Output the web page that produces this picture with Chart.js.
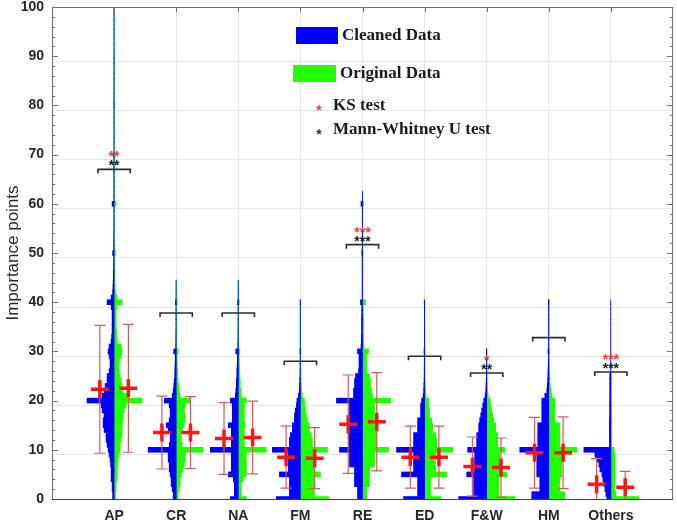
<!DOCTYPE html>
<html>
<head>
<meta charset="utf-8">
<script src="https://cdn.jsdelivr.net/npm/chart.js@4.4.1/dist/chart.umd.min.js"></script>
<style>
  html, body { margin: 0; padding: 0; background: #fff; }
  #wrap { width: 677px; height: 522px; }
</style>
</head>
<body>
<div id="wrap"><canvas id="myChart" width="677" height="522"></canvas></div>
<script>
const categories = ['AP', 'CR', 'NA', 'FM', 'RE', 'ED', 'F&W', 'HM', 'Others'];

// histogram bar lengths, index = importance points (one bin per point)
const cleanedAP = [
  1.5, 1.5, 2, 2, 3, 3, 3, 3.5, 4, 5,
  6, 7, 8, 8, 10, 11, 11, 10, 12, 13,
  27, 12, 10, 9, 7, 7, 5, 4, 4, 5,
  6, 5, 3, 2.5, 2, 2, 2, 2, 2, 3,
  7, 3, 1.5, 1.2, 1, 0.8, 0.8, 0.6, 0.6, 0.5,
  1.5, 0.5, 0.4, 0.4, 0.4, 0.3, 0.3, 0.3, 0.3, 0.3,
  2, 0.3, 0.3, 0.3, 0.3, 0.3, 0.3, 0.3, 0.3, 0.3,
  0.5, 0.25, 0.25, 0.25, 0.25, 0.25, 0.25, 0.25, 0.25, 0.25,
  0.4, 0.25, 0.25, 0.25, 0.25, 0.25, 0.25, 0.25, 0.25, 0.25,
  0.3, 0.2, 0.2, 0.2, 0.2, 0.2, 0.2, 0.2, 0.2, 0.2,
  0.3
];
const originalAP = [
  1.5, 1.5, 2, 2, 2.5, 3, 3, 4, 4, 5,
  6, 6, 7, 8, 8, 8, 9, 9, 10, 12,
  28, 14, 9, 8, 7, 6, 5, 5, 5, 7,
  8, 7, 3, 2.5, 2.5, 2, 2, 2, 2, 3,
  8, 3, 1.5, 1.2, 1, 0.8, 0.8, 0.6, 0.6, 0.5,
  1.5, 0.5, 0.4, 0.4, 0.4, 0.3, 0.3, 0.3, 0.3, 0.3,
  2, 0.3, 0.3, 0.3, 0.3, 0.3, 0.3, 0.3, 0.3, 0.3,
  0.5, 0.25, 0.25, 0.25, 0.25, 0.25, 0.25, 0.25, 0.25, 0.25,
  0.4, 0.25, 0.25, 0.25, 0.25, 0.25, 0.25, 0.25, 0.25, 0.25,
  0.3, 0.2, 0.2, 0.2, 0.2, 0.2, 0.2, 0.2, 0.2, 0.2,
  0.3
];
const cleanedCR = [
  3, 3, 4, 5, 5, 6, 7, 7, 8, 8,
  28, 7, 6, 6, 8, 10, 7, 6, 6, 7,
  12, 4, 3, 2.5, 2, 1.5, 1.5, 1.2, 1, 1,
  2.5, 0.6, 0.5, 0.4, 0.4, 0.3, 0.3, 0.3, 0.3, 0.3,
  0.8, 0.25, 0.2, 0.2, 0.2
];
const originalCR = [
  2, 2, 3, 4, 4, 5, 7, 8, 9, 9,
  27, 6, 5, 5, 6, 8, 9, 9, 8, 9,
  14, 4, 3, 2.5, 2, 1.5, 1.5, 1.2, 1, 1,
  2, 0.6, 0.5, 0.4, 0.4, 0.3, 0.3, 0.3, 0.3, 0.3,
  1.2, 0.25, 0.2, 0.2, 0.2
];
const cleanedNA = [
  8, 4, 4, 4, 5, 10, 7, 7, 7, 7,
  28, 7, 7, 7, 7, 10, 6, 6, 6, 6,
  8, 3, 2.5, 2, 2, 1.5, 1.5, 1.2, 1, 1,
  2.5, 0.6, 0.5, 0.4, 0.4, 0.3, 0.3, 0.3, 0.3, 0.3,
  0.8, 0.25, 0.2, 0.2, 0.2
];
const originalNA = [
  8, 3, 3, 3, 5, 8, 8, 8, 8, 8,
  28, 6, 6, 6, 6, 7, 6, 6, 6, 6,
  8, 3, 2.5, 2, 2, 1.5, 1.5, 1.2, 1, 1,
  1.5, 0.6, 0.5, 0.4, 0.4, 0.3, 0.3, 0.3, 0.3, 0.3,
  1.2, 0.25, 0.2, 0.2, 0.2
];
const cleanedFM = [
  24, 11, 11, 11, 11, 21, 12, 12, 12, 12,
  28, 11, 11, 10, 8, 8, 6, 6, 5, 4,
  3.5, 2, 1.2, 1, 0.8, 0.6, 0.5, 0.4, 0.4, 0.3,
  0.6, 0.25, 0.25, 0.25, 0.25, 0.25, 0.25, 0.25, 0.25, 0.25,
  0.4
];
const originalFM = [
  28, 14, 14, 14, 14, 20, 14, 14, 14, 14,
  27, 12, 12, 11, 9, 9, 7, 6, 5, 4.5,
  4, 2, 1.2, 1, 0.8, 0.6, 0.5, 0.4, 0.4, 0.3,
  0.6, 0.25, 0.25, 0.25, 0.25, 0.25, 0.25, 0.25, 0.25, 0.25,
  0.4
];
const cleanedRE = [
  5, 5, 5, 8, 8, 8, 8, 13, 13, 13,
  23, 14, 14, 14, 14, 14, 14, 13, 13, 13,
  26, 9, 9, 8, 8, 7, 4, 3.5, 3.5, 3.5,
  5, 1.5, 1.2, 1.2, 1, 1, 1, 1, 0.8, 0.8,
  2, 0.4, 0.4, 0.4, 0.4, 0.4, 0.4, 0.4, 0.4, 0.4,
  0.8, 0.3, 0.3, 0.3, 0.3, 0.3, 0.3, 0.3, 0.3, 0.3,
  1.5, 0.2, 0.2
];
const originalRE = [
  4, 4, 4, 7, 7, 7, 7, 12, 12, 12,
  26, 14, 14, 14, 14, 14, 12, 12, 12, 12,
  28, 10, 9, 8, 8, 7, 4, 4, 4, 4,
  6, 1.5, 1.2, 1.2, 1, 1, 1, 1, 0.8, 0.8,
  3, 0.4, 0.4, 0.4, 0.4, 0.4, 0.4, 0.4, 0.4, 0.4,
  0.8, 0.3, 0.3, 0.3, 0.3, 0.3, 0.3, 0.3, 0.3, 0.3,
  1, 0.2, 0.2
];
const cleanedED = [
  21, 7, 7, 7, 7, 23, 11, 11, 11, 11,
  28, 11, 11, 11, 7, 7, 7, 4, 4, 4,
  3, 1.5, 1, 0.8, 0.6, 0.5, 0.4, 0.4, 0.3, 0.3,
  0.6, 0.25, 0.25, 0.25, 0.25, 0.25, 0.25, 0.25, 0.25, 0.25,
  0.4
];
const originalED = [
  16, 6, 6, 6, 6, 22, 11, 11, 11, 11,
  28, 12, 12, 11, 8, 8, 7, 5, 5, 4,
  4, 1.5, 1, 0.8, 0.6, 0.5, 0.4, 0.4, 0.3, 0.3,
  0.6, 0.25, 0.25, 0.25, 0.25, 0.25, 0.25, 0.25, 0.25, 0.25,
  0.4
];
const cleanedFW = [
  28, 13, 13, 13, 13, 20, 12, 12, 12, 12,
  19, 10, 10, 10, 8, 8, 7, 6, 5, 4,
  3, 1.5, 1, 0.8, 0.5, 0.4, 0.3, 0.3, 0.25, 0.25,
  0.3
];
const originalFW = [
  28, 12, 12, 12, 12, 20, 13, 13, 13, 13,
  18, 11, 11, 11, 9, 9, 7, 6, 5, 4.5,
  3.5, 1.5, 1, 0.8, 0.5, 0.4, 0.3, 0.3, 0.25, 0.25,
  0.3
];
const cleanedHM = [
  17, 17, 9, 9, 9, 12, 12, 12, 12, 12,
  29, 11, 11, 11, 11, 11, 7, 7, 7, 7,
  7, 4, 2, 1.5, 1.2, 1, 0.8, 0.6, 0.5, 0.4,
  0.8, 0.3, 0.3, 0.3, 0.3, 0.3, 0.3, 0.3, 0.3, 0.3,
  0.5
];
const originalHM = [
  16, 16, 11, 11, 11, 13, 13, 13, 13, 13,
  28, 11, 11, 11, 11, 11, 6, 6, 6, 6,
  6, 3, 2, 1.5, 1.2, 1, 0.8, 0.6, 0.5, 0.4,
  0.8, 0.3, 0.3, 0.3, 0.3, 0.3, 0.3, 0.3, 0.3, 0.3,
  0.5
];
const cleanedOthers = [
  4, 5, 6, 7, 8, 9, 11, 12, 14, 16,
  27, 1.5, 1.5, 1.5, 1.5, 1.5, 1.5, 1.3, 1.3, 1.3,
  1.3, 1.2, 1.2, 1.2, 1.2, 1.2, 0.25, 0.25, 0.25, 0.25,
  0.25, 0.2, 0.2, 0.2, 0.2, 0.2, 0.2, 0.2, 0.2, 0.2,
  0.2
];
const originalOthers = [
  28, 5, 4, 4, 4, 4, 4, 4, 4, 4,
  3, 0.3, 0.3, 0.3, 0.3, 0.3, 0.3, 0.3, 0.3, 0.3,
  0.2, 0.2, 0.2, 0.2, 0.2, 0.2
];

const cleanedHists = [cleanedAP, cleanedCR, cleanedNA, cleanedFM, cleanedRE, cleanedED, cleanedFW, cleanedHM, cleanedOthers];
const originalHists = [originalAP, originalCR, originalNA, originalFM, originalRE, originalED, originalFW, originalHM, originalOthers];

// mean and standard deviation of each group
const meanCleaned   = [22.3, 13.5, 12.3, 8.5, 15.2, 8.5, 6.6, 9.4, 3.0];
const sdCleaned     = [13.0, 7.4, 7.3, 6.3, 10.0, 6.3, 6.0, 7.2, 5.2];
const meanOriginal  = [22.5, 13.5, 12.5, 8.3, 15.7, 8.5, 6.4, 9.4, 2.4];
const sdOriginal    = [13.0, 7.3, 7.4, 6.2, 10.0, 6.3, 6.0, 7.3, 3.2];

// significance brackets
const bracketLevel = [67, 37.8, 37.8, 28, 51.7, 29, 25.6, 32.8, 25.8];
const ksStars = ['**', '', '', '', '***', '', '*', '', '***'];
const mwStars = ['**', '', '', '', '***', '', '**', '', '***'];

const BLUE = '#0000ff';
const GREEN = '#22ff00';
const countScale = 1 / 62;   // histogram length -> x axis units
const meanShift = 0.23;
const sansFont = '"Liberation Sans", Arial, sans-serif';
const serifFont = '"Liberation Serif", "Times New Roman", serif';

function histBars(hists, side) {
  const bars = [];
  hists.forEach((h, c) => {
    const x0 = c + 1;
    h.forEach((n, v) => {
      if (n > 0) {
        bars.push({ y: v, x: side < 0 ? [x0 - n * countScale, x0] : [x0, x0 + n * countScale] });
      }
    });
  });
  return bars;
}

function drawErrorBars(chart, means, sds, shift) {
  const { ctx, scales: { x, y }, chartArea } = chart;
  ctx.save();
  ctx.beginPath();
  ctx.rect(chartArea.left, chartArea.top, chartArea.right - chartArea.left, chartArea.bottom - chartArea.top);
  ctx.clip();
  ctx.strokeStyle = '#d65a5a';
  ctx.lineWidth = 1.2;
  means.forEach((m, i) => {
    const px = x.getPixelForValue(i + 1 + shift);
    const top = y.getPixelForValue(m + sds[i]);
    const bot = y.getPixelForValue(m - sds[i]);
    ctx.beginPath();
    ctx.moveTo(px, top); ctx.lineTo(px, bot);
    ctx.moveTo(px - 5.5, top); ctx.lineTo(px + 5.5, top);
    ctx.moveTo(px - 5.5, bot); ctx.lineTo(px + 5.5, bot);
    ctx.stroke();
  });
  ctx.restore();
}

const annotate = {
  id: 'annotate',
  afterDatasetDraw(chart, args) {
    // bars are drawn first, then error bars, then the mean crosses on top
    if (args.index !== 2) return;
    drawErrorBars(chart, meanCleaned, sdCleaned, -meanShift);
    drawErrorBars(chart, meanOriginal, sdOriginal, meanShift);
  },
  afterDraw(chart) {
    const { ctx, scales: { x, y }, chartArea: a } = chart;
    ctx.save();

    // box with inward ticks
    ctx.strokeStyle = '#707070';
    ctx.lineWidth = 1;
    ctx.beginPath();
    ctx.moveTo(a.left + 0.5, a.bottom); ctx.lineTo(a.left + 0.5, a.top + 0.5);
    ctx.lineTo(a.right - 0.5, a.top + 0.5); ctx.lineTo(a.right - 0.5, a.bottom);
    for (let v = 0; v <= 100; v += 2) {
      const py = Math.round(y.getPixelForValue(v)) + 0.5;
      const len = v % 10 === 0 ? 6 : 3;
      ctx.moveTo(a.left, py); ctx.lineTo(a.left + len, py);
      ctx.moveTo(a.right, py); ctx.lineTo(a.right - len, py);
    }
    categories.forEach((c, i) => {
      const px = Math.round(x.getPixelForValue(i + 1)) + 0.5;
      ctx.moveTo(px, a.top); ctx.lineTo(px, a.top + 5);
    });
    ctx.stroke();
    ctx.strokeStyle = '#404040';
    ctx.beginPath();
    ctx.moveTo(a.left, a.bottom + 0.5); ctx.lineTo(a.right, a.bottom + 0.5);
    ctx.stroke();

    // significance brackets and stars
    ctx.strokeStyle = '#2b2b2b';
    ctx.lineWidth = 1.6;
    ctx.textAlign = 'center';
    ctx.textBaseline = 'alphabetic';
    ctx.font = 'bold 14px ' + sansFont;
    bracketLevel.forEach((lvl, i) => {
      const l = x.getPixelForValue(i + 1 - 0.26);
      const r = x.getPixelForValue(i + 1 + 0.26);
      const py = y.getPixelForValue(lvl);
      ctx.beginPath();
      ctx.moveTo(l, py + 4); ctx.lineTo(l, py); ctx.lineTo(r, py); ctx.lineTo(r, py + 4);
      ctx.stroke();
      const cx = x.getPixelForValue(i + 1);
      if (mwStars[i]) { ctx.fillStyle = '#1a1a1a'; ctx.fillText(mwStars[i], cx, py - 7 + 8); }
      if (ksStars[i]) { ctx.fillStyle = '#ff3030'; ctx.fillText(ksStars[i], cx, py - 16 + 8); }
    });

    // legend
    const lx = a.left + 244;
    ctx.fillStyle = BLUE;
    ctx.fillRect(lx, 27, 42, 17);
    ctx.fillStyle = GREEN;
    ctx.fillRect(lx - 3, 65, 43, 17);
    ctx.fillStyle = '#1a1a1a';
    ctx.textAlign = 'left';
    ctx.textBaseline = 'middle';
    ctx.font = 'bold 17px ' + serifFont;
    ctx.fillText('Cleaned Data', lx + 46, 36);
    ctx.fillText('Original Data', lx + 44, 74);
    ctx.fillText('KS test', lx + 37, 106);
    ctx.fillText('Mann-Whitney U test', lx + 37, 130);
    ctx.textAlign = 'center';
    ctx.textBaseline = 'alphabetic';
    ctx.font = 'bold 14px ' + sansFont;
    ctx.fillStyle = '#ff3030';
    ctx.fillText('*', lx + 23, 115);
    ctx.fillStyle = '#333333';
    ctx.fillText('*', lx + 23, 139);

    ctx.restore();
  }
};

const ctx = document.getElementById('myChart').getContext('2d');

new Chart(ctx, {
  type: 'scatter',
  data: {
    datasets: [
      {
        label: 'Cleaned mean',
        data: meanCleaned.map((m, i) => ({ x: i + 1 - meanShift, y: m })),
        pointStyle: 'cross', pointRadius: 9, borderWidth: 3.5,
        borderColor: '#ff1414', backgroundColor: '#ff1414'
      },
      {
        label: 'Original mean',
        data: meanOriginal.map((m, i) => ({ x: i + 1 + meanShift, y: m })),
        pointStyle: 'cross', pointRadius: 9, borderWidth: 3.5,
        borderColor: '#ff1414', backgroundColor: '#ff1414'
      },
      {
        type: 'bar', label: 'Cleaned Data', indexAxis: 'y',
        data: histBars(cleanedHists, -1),
        backgroundColor: BLUE, borderWidth: 0, grouped: false,
        barPercentage: 1, categoryPercentage: 1
      },
      {
        type: 'bar', label: 'Original Data', indexAxis: 'y',
        data: histBars(originalHists, 1),
        backgroundColor: GREEN, borderWidth: 0, grouped: false,
        barPercentage: 1, categoryPercentage: 1
      }
    ]
  },
  options: {
    responsive: false,
    animation: false,
    events: [],
    layout: { autoPadding: false, padding: { left: 0, right: 4, top: 7, bottom: 0 } },
    plugins: { legend: { display: false }, tooltip: { enabled: false } },
    scales: {
      x: {
        type: 'linear', min: 0, max: 10, offset: false,
        afterFit: (s) => { s.height = 23; s.paddingLeft = 0; s.paddingRight = 0; },
        ticks: {
          stepSize: 1, autoSkip: false, maxRotation: 0, padding: 9,
          color: '#262626', font: { family: sansFont, size: 14, weight: 'bold' },
          callback: (v) => categories[v - 1] || ''
        },
        grid: {
          drawTicks: false,
          color: (c) => (c.tick && c.tick.value >= 1 && c.tick.value <= 9) ? '#e6e6e6' : 'rgba(0,0,0,0)'
        },
        border: { display: false }
      },
      y: {
        type: 'linear', min: 0, max: 100, offset: false,
        afterFit: (s) => { s.width = 52; s.paddingTop = 0; s.paddingBottom = 0; },
        ticks: {
          stepSize: 2, autoSkip: false, padding: 8,
          color: '#262626', font: { family: sansFont, size: 14, weight: 'bold' },
          callback: (v) => v % 10 === 0 ? v : ''
        },
        grid: {
          drawTicks: false,
          color: (c) => (c.tick && c.tick.value % 10 === 0 && c.tick.value > 0 && c.tick.value < 100) ? '#e6e6e6' : 'rgba(0,0,0,0)'
        },
        border: { display: false },
        title: {
          display: true, text: 'Importance points', color: '#262626',
          font: { family: sansFont, size: 17 }, padding: { top: 3, bottom: 0 }
        }
      }
    }
  },
  plugins: [annotate]
});
</script>
</body>
</html>
